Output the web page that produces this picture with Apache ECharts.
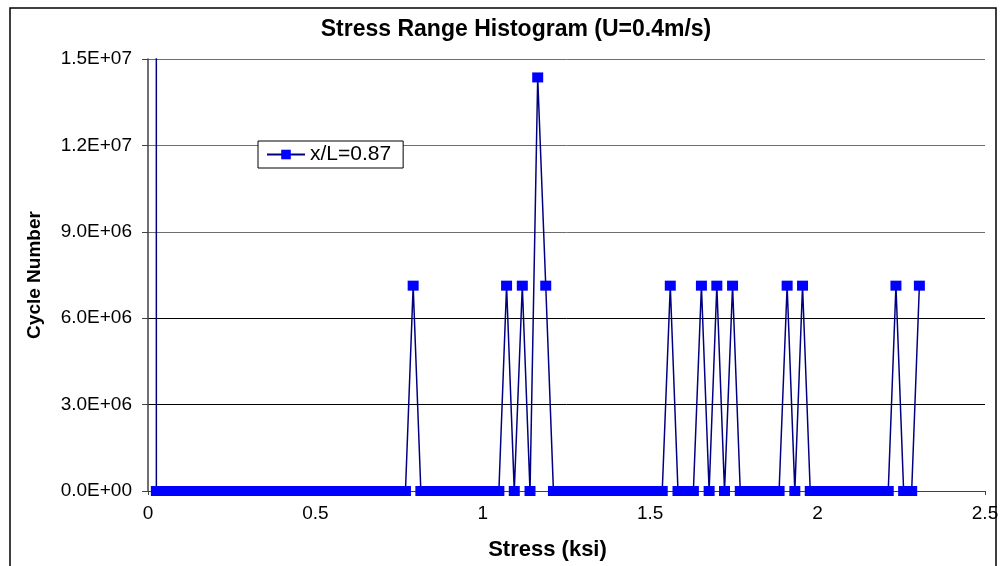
<!DOCTYPE html>
<html>
<head>
<meta charset="utf-8">
<title>Stress Range Histogram</title>
<script src="https://cdn.jsdelivr.net/npm/echarts@6/dist/echarts.min.js"></script>
<style>
  html, body { margin: 0; padding: 0; background: #fff; }
  #chart { width: 1004px; height: 566px; }
</style>
</head>
<body>
<div id="chart"></div>
<script>
// Stress range bins (ksi)
var stressKsi = [
  0.001, 0.025, 0.048, 0.071, 0.094, 0.118, 0.141, 0.164, 0.187, 0.211,
  0.234, 0.257, 0.280, 0.304, 0.327, 0.350, 0.373, 0.397, 0.420, 0.443,
  0.466, 0.490, 0.513, 0.536, 0.559, 0.583, 0.606, 0.629, 0.653, 0.676,
  0.699, 0.722, 0.746, 0.769, 0.792, 0.815, 0.839, 0.862, 0.885, 0.908,
  0.932, 0.955, 0.978, 1.001, 1.025, 1.048, 1.071, 1.094, 1.118, 1.141,
  1.164, 1.188, 1.211, 1.234, 1.257, 1.281, 1.304, 1.327, 1.350, 1.374,
  1.397, 1.420, 1.443, 1.467, 1.490, 1.513, 1.536, 1.560, 1.583, 1.606,
  1.629, 1.653, 1.676, 1.699, 1.722, 1.746, 1.769, 1.792, 1.816, 1.839,
  1.862, 1.885, 1.909, 1.932, 1.955, 1.978, 2.002, 2.025, 2.048, 2.071,
  2.095, 2.118, 2.141, 2.164, 2.188, 2.211, 2.234, 2.257, 2.281, 2.304
];

// Cycle counts per bin at x/L = 0.87
var cycleCount = [
  3.0e9, 0, 0, 0, 0, 0, 0, 0, 0, 0,
  0, 0, 0, 0, 0, 0, 0, 0, 0, 0,
  0, 0, 0, 0, 0, 0, 0, 0, 0, 0,
  0, 0, 0, 0, 7.13e6, 0, 0, 0, 0, 0,
  0, 0, 0, 0, 0, 0, 7.13e6, 0, 7.13e6, 0,
  1.436e7, 7.13e6, 0, 0, 0, 0, 0, 0, 0, 0,
  0, 0, 0, 0, 0, 0, 0, 7.13e6, 0, 0,
  0, 7.13e6, 0, 7.13e6, 0, 7.13e6, 0, 0, 0, 0,
  0, 0, 7.13e6, 0, 7.13e6, 0, 0, 0, 0, 0,
  0, 0, 0, 0, 0, 0, 7.13e6, 0, 0, 7.13e6
];

var seriesName = 'x/L=0.87';

var yTickValues = [0, 3e6, 6e6, 9e6, 1.2e7, 1.5e7];
var yTickLabels = ['0.0E+00', '3.0E+06', '6.0E+06', '9.0E+06', '1.2E+07', '1.5E+07'];
var xTickValues = [0, 0.5, 1, 1.5, 2, 2.5];
var xTickLabels = ['0', '0.5', '1', '1.5', '2', '2.5'];

var FONT = '"Liberation Sans", Arial, sans-serif';

var points = stressKsi.map(function (x, i) { return [x, cycleCount[i]]; });

function labelFor(values, labels) {
  return function (v) {
    for (var i = 0; i < values.length; i++) {
      if (Math.abs(values[i] - v) < 1e-9 * Math.max(1, Math.abs(v))) return labels[i];
    }
    return '';
  };
}

var chart = echarts.init(document.getElementById('chart'), null, { renderer: 'canvas' });

chart.setOption({
  animation: false,
  backgroundColor: '#ffffff',
  graphic: [
    {
      type: 'rect',
      silent: true,
      shape: { x: 10, y: 8, width: 986, height: 600 },
      style: { fill: 'none', stroke: '#000', lineWidth: 1.5 }
    },
    {
      type: 'text',
      silent: true,
      style: {
        x: 516, y: 30,
        text: 'Stress Range Histogram (U=0.4m/s)',
        align: 'center', verticalAlign: 'middle',
        font: 'bold 23px ' + FONT,
        fill: '#000'
      }
    }
  ],
  legend: {
    data: [seriesName],
    left: 258,
    top: 141,
    orient: 'horizontal',
    backgroundColor: '#fff',
    borderColor: '#000',
    borderWidth: 1,
    borderRadius: 0,
    padding: [3, 12, 3, 8],
    itemWidth: 38,
    itemHeight: 12,
    textStyle: { fontFamily: FONT, fontSize: 21, color: '#000' }
  },
  grid: {
    left: 148,
    right: 19,
    top: 59,
    bottom: 73,
    containLabel: false
  },
  xAxis: {
    type: 'value',
    min: 0,
    max: 2.5,
    interval: 0.5,
    name: 'Stress (ksi)',
    nameLocation: 'middle',
    nameGap: 48,
    nameTextStyle: {
      fontFamily: FONT, fontSize: 22, fontWeight: 'bold', color: '#000',
      padding: [0, 38, 0, 0]
    },
    axisLine: { show: true, onZero: false, lineStyle: { color: '#404040', width: 1 } },
    axisTick: { show: true, inside: false, length: 4, lineStyle: { color: '#404040' } },
    axisLabel: {
      margin: 13,
      fontFamily: FONT, fontSize: 19, color: '#000',
      formatter: labelFor(xTickValues, xTickLabels)
    },
    splitLine: { show: false }
  },
  yAxis: {
    type: 'value',
    min: 0,
    max: 1.5e7,
    interval: 3e6,
    name: 'Cycle Number',
    nameLocation: 'middle',
    nameGap: 104,
    nameRotate: 90,
    nameTextStyle: { fontFamily: FONT, fontSize: 19, fontWeight: 'bold', color: '#000' },
    axisLine: { show: true, lineStyle: { color: '#404040', width: 1.5 } },
    axisTick: { show: true, inside: false, length: 6, lineStyle: { color: '#404040' } },
    axisLabel: {
      margin: 16,
      fontFamily: FONT, fontSize: 19, color: '#000',
      formatter: labelFor(yTickValues, yTickLabels)
    },
    splitLine: {
      show: true,
      lineStyle: {
        color: ['#000', '#000', '#000', '#6e6e6e', '#6e6e6e', '#6e6e6e'],
        width: 1
      }
    }
  },
  series: [
    {
      name: seriesName,
      type: 'line',
      data: points,
      clip: true,
      symbol: 'rect',
      symbolSize: [11, 10],
      showAllSymbol: true,
      itemStyle: { color: '#0000ff' },
      lineStyle: { color: '#000080', width: 1.5 },
      emphasis: { disabled: true }
    }
  ]
});
</script>
</body>
</html>
